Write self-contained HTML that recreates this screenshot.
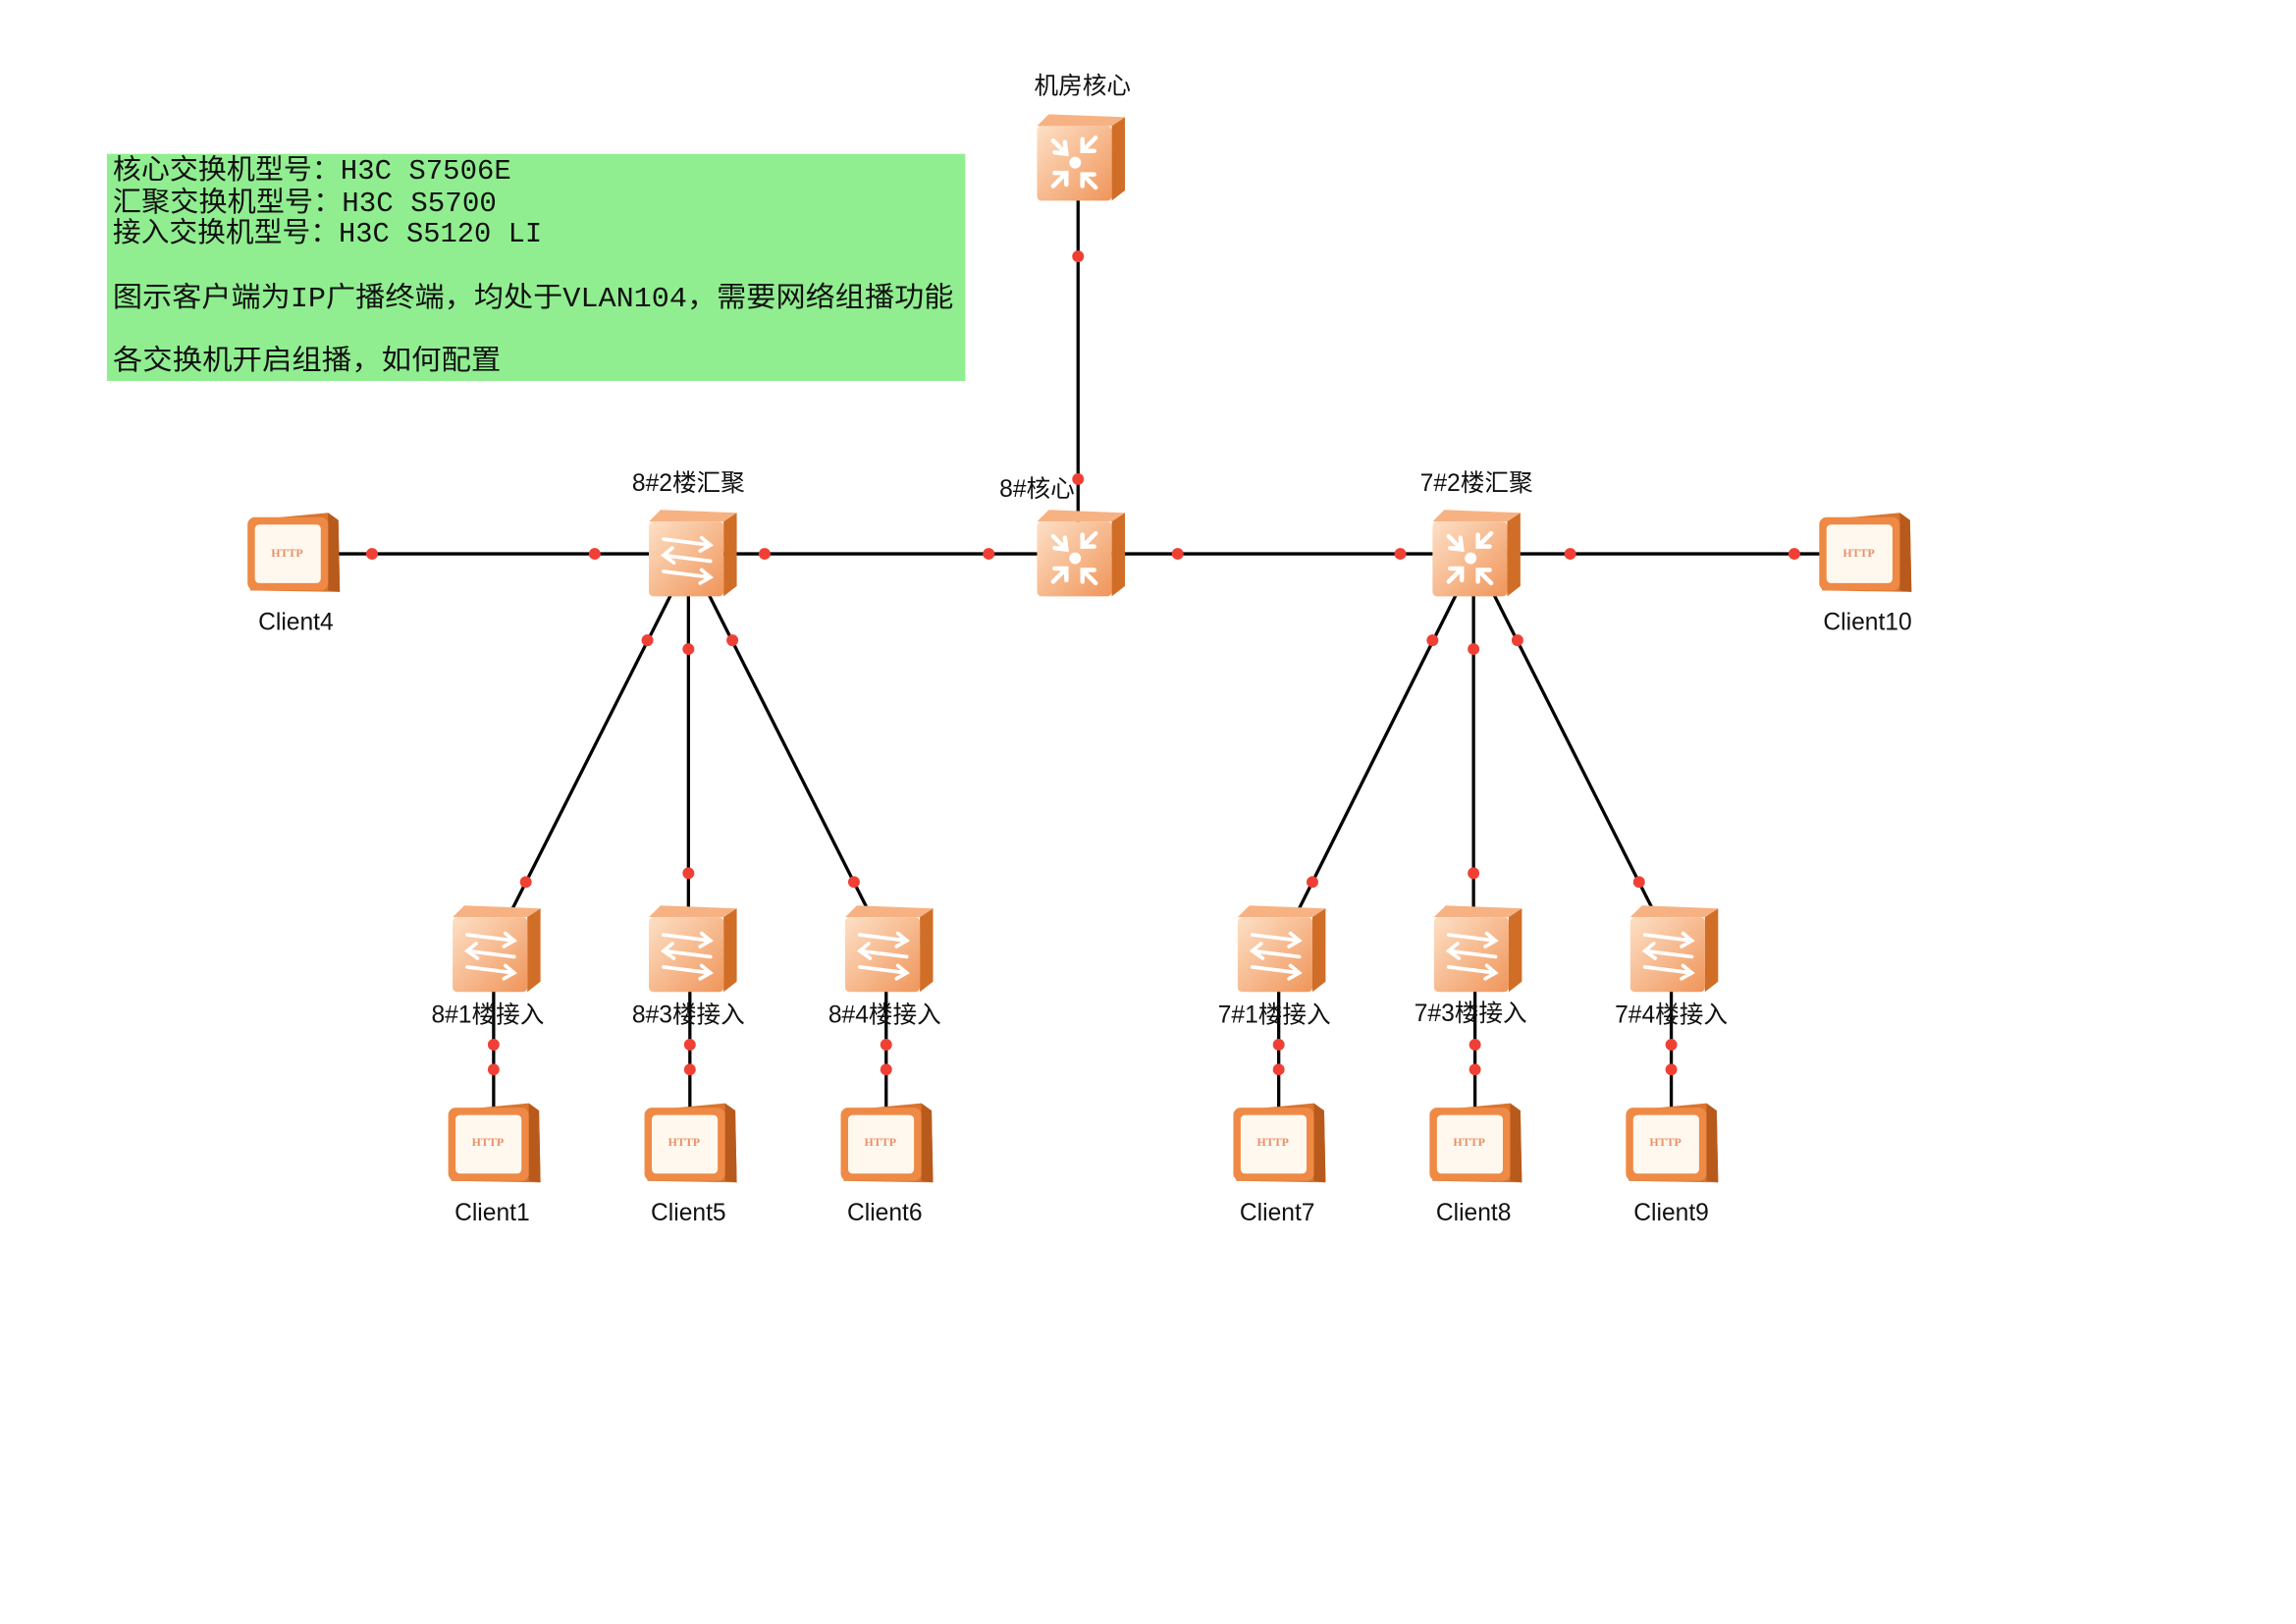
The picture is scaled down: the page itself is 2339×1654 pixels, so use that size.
<!DOCTYPE html>
<html><head><meta charset="utf-8"><style>
html,body{margin:0;padding:0;background:#fff;}
svg{display:block;}
.lbl{font-family:"Liberation Sans","Noto Sans CJK SC",sans-serif;font-size:16.5px;fill:#111;text-anchor:middle;}
.note{font-family:"Liberation Mono","Noto Sans CJK SC",monospace;font-size:19px;fill:#111;}
.http{font-family:"Liberation Serif",serif;font-size:8px;font-weight:bold;fill:#e8906a;text-anchor:middle;}
</style></head><body>
<svg width="2339" height="1654" viewBox="0 0 1567.5 1108.4" preserveAspectRatio="none" xmlns="http://www.w3.org/2000/svg">
<defs>
<linearGradient id="fg" x1="0" y1="0" x2="1" y2="1">
<stop offset="0" stop-color="#fde0c6"/><stop offset="1" stop-color="#f0955a"/></linearGradient>
<g id="box">
<polygon points="-30,-22 -22,-30 30,-28 21,-22" fill="#f7b283"/>
<polygon points="21,-22 30,-28 30,22 21,29" fill="#d06e28"/>
<rect x="-30" y="-22" width="51" height="51" rx="3" fill="url(#fg)"/>
</g>
<g id="sw">
<use href="#box"/>
<g stroke="#fff" stroke-width="2.5" fill="none" stroke-linecap="round">
<path d="M-20,-10 L12,-6 M6,-11 L12,-6 L5,-2"/>
<path d="M12,5 L-20,1 M-14,-4 L-20,1 L-13,6"/>
<path d="M-20,12 L12,16 M6,11 L12,16 L5,20"/>
</g>
</g>
<g id="core">
<use href="#box"/>
<g stroke="#fff" stroke-width="3" fill="none" stroke-linecap="round">
<path d="M-19,-12 L-10,-3 M-18,-4 L-10,-3 L-11,-11"/>
<path d="M10,-14 L1,-5 M1,-13 L1,-5 L9,-5"/>
<path d="M-19,19 L-10,10 M-18,10 L-10,10 L-10,18"/>
<path d="M10,20 L1,11 M1,19 L1,11 L9,11"/>
</g>
<circle cx="-4" cy="3" r="4" fill="#fff"/>
</g>
<g id="cl">
<polygon points="-30,-22 24,-27 31,-22 32,27 -29,26" fill="#d9752f"/>
<polygon points="24,-27 31,-22 32,27 24,26" fill="#b85a1c"/>
<rect x="-31" y="-24" width="55" height="50" rx="5" fill="#ee8a45"/>
<rect x="-26" y="-19" width="45" height="40" rx="3" fill="#fff8ee"/>
</g>
</defs>

<rect x="73" y="105" width="586" height="155" fill="#90ee90"/>
<text class="note" x="77" y="122" textLength="272" lengthAdjust="spacingAndGlyphs">核心交换机型号：H3C S7506E</text>
<text class="note" x="77" y="144" textLength="262" lengthAdjust="spacingAndGlyphs">汇聚交换机型号：H3C S5700</text>
<text class="note" x="77" y="165" textLength="293" lengthAdjust="spacingAndGlyphs">接入交换机型号：H3C S5120 LI</text>
<text class="note" x="77" y="209" textLength="574" lengthAdjust="spacingAndGlyphs">图示客户端为IP广播终端，均处于VLAN104，需要网络组播功能</text>
<text class="note" x="77" y="252" textLength="265" lengthAdjust="spacingAndGlyphs">各交换机开启组播，如何配置</text>

<g stroke="#000" stroke-width="2.2" fill="none">
<line x1="736" y1="130" x2="736" y2="360"/>
<line x1="230" y1="378" x2="1245" y2="378"/>
<line x1="460" y1="402" x2="349" y2="622"/>
<line x1="470" y1="400" x2="470" y2="625"/>
<line x1="482" y1="402" x2="593" y2="622"/>
<line x1="996" y1="402" x2="886" y2="622"/>
<line x1="1006" y1="400" x2="1006" y2="625"/>
<line x1="1018" y1="402" x2="1129" y2="622"/>
<line x1="337" y1="670" x2="337" y2="760"/><line x1="471" y1="670" x2="471" y2="760"/><line x1="605" y1="670" x2="605" y2="760"/>
<line x1="873" y1="670" x2="873" y2="760"/><line x1="1007" y1="670" x2="1007" y2="760"/><line x1="1141" y1="670" x2="1141" y2="760"/>
</g>

<use href="#core" x="738" y="108"/>
<use href="#core" x="738" y="378"/>
<use href="#sw" x="473" y="378"/>
<use href="#core" x="1008" y="378"/>
<use href="#sw" x="339" y="648"/><use href="#sw" x="473" y="648"/><use href="#sw" x="607" y="648"/>
<use href="#sw" x="875" y="648"/><use href="#sw" x="1009" y="648"/><use href="#sw" x="1143" y="648"/>
<use href="#cl" x="200" y="377"/><use href="#cl" x="1273" y="377"/>
<use href="#cl" x="337" y="780"/><use href="#cl" x="471" y="780"/><use href="#cl" x="605" y="780"/>
<use href="#cl" x="873" y="780"/><use href="#cl" x="1007" y="780"/><use href="#cl" x="1141" y="780"/>
<g>
<text class="http" x="196" y="380">HTTP</text><text class="http" x="1269" y="380">HTTP</text>
<text class="http" x="333" y="782">HTTP</text><text class="http" x="467" y="782">HTTP</text><text class="http" x="601" y="782">HTTP</text>
<text class="http" x="869" y="782">HTTP</text><text class="http" x="1003" y="782">HTTP</text><text class="http" x="1137" y="782">HTTP</text>
</g>

<g fill="#f04035">
<circle cx="736" cy="175" r="4"/><circle cx="736" cy="327" r="4"/>
<circle cx="254" cy="378" r="4"/><circle cx="406" cy="378" r="4"/><circle cx="522" cy="378" r="4"/><circle cx="675" cy="378" r="4"/>
<circle cx="804" cy="378" r="4"/><circle cx="956" cy="378" r="4"/><circle cx="1072" cy="378" r="4"/><circle cx="1225" cy="378" r="4"/>
<circle cx="442" cy="437" r="4"/><circle cx="470" cy="443" r="4"/><circle cx="500" cy="437" r="4"/>
<circle cx="359" cy="602" r="4"/><circle cx="470" cy="596" r="4"/><circle cx="583" cy="602" r="4"/>
<circle cx="978" cy="437" r="4"/><circle cx="1006" cy="443" r="4"/><circle cx="1036" cy="437" r="4"/>
<circle cx="896" cy="602" r="4"/><circle cx="1006" cy="596" r="4"/><circle cx="1119" cy="602" r="4"/>
<circle cx="337" cy="713" r="4"/><circle cx="337" cy="730" r="4"/><circle cx="471" cy="713" r="4"/><circle cx="471" cy="730" r="4"/><circle cx="605" cy="713" r="4"/><circle cx="605" cy="730" r="4"/>
<circle cx="873" cy="713" r="4"/><circle cx="873" cy="730" r="4"/><circle cx="1007" cy="713" r="4"/><circle cx="1007" cy="730" r="4"/><circle cx="1141" cy="713" r="4"/><circle cx="1141" cy="730" r="4"/>
</g>

<text class="lbl" x="739" y="64">机房核心</text>
<text class="lbl" x="708" y="339">8#核心</text>
<text class="lbl" x="470" y="335">8#2楼汇聚</text>
<text class="lbl" x="1008" y="335">7#2楼汇聚</text>
<text class="lbl" x="202" y="430">Client4</text>
<text class="lbl" x="1275" y="430">Client10</text>
<text class="lbl" x="333" y="698">8#1楼接入</text><text class="lbl" x="470" y="698">8#3楼接入</text><text class="lbl" x="604" y="698">8#4楼接入</text>
<text class="lbl" x="870" y="698">7#1楼接入</text><text class="lbl" x="1004" y="697">7#3楼接入</text><text class="lbl" x="1141" y="698">7#4楼接入</text>
<text class="lbl" x="336" y="833">Client1</text><text class="lbl" x="470" y="833">Client5</text><text class="lbl" x="604" y="833">Client6</text>
<text class="lbl" x="872" y="833">Client7</text><text class="lbl" x="1006" y="833">Client8</text><text class="lbl" x="1141" y="833">Client9</text>
</svg>
</body></html>
